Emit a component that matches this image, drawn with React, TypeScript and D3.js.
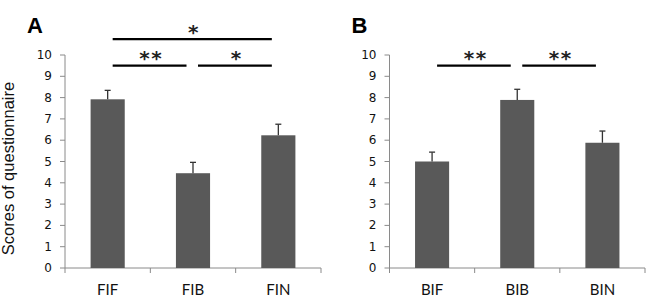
import React from "react";
import * as d3 from "d3";

const categoriesA = ["FIF", "FIB", "FIN"];
const valuesA = [7.92, 4.45, 6.23];
const errorsA = [0.42, 0.51, 0.52];

const categoriesB = ["BIF", "BIB", "BIN"];
const valuesB = [5.0, 7.89, 5.88];
const errorsB = [0.44, 0.5, 0.55];

const yTicks = [0, 1, 2, 3, 4, 5, 6, 7, 8, 9, 10];
const yLabel = "Scores of questionnaire";

const bracketsA = [
  { from: "FIF", to: "FIB", level: 9.5, label: "**" },
  { from: "FIB", to: "FIN", level: 9.5, label: "*" },
  { from: "FIF", to: "FIN", level: 10.75, label: "*" },
];
const bracketsB = [
  { from: "BIF", to: "BIB", level: 9.5, label: "**" },
  { from: "BIB", to: "BIN", level: 9.5, label: "**" },
];

const W = 649;
const H = 298;
const AXIS = "#8a8a8a";
const BAR = "#595959";
const TICKFONT = "'DejaVu Sans', sans-serif";

type Bracket = { from: string; to: string; level: number; label: string };

function Panel(props: {
  letter: string;
  x0: number;
  x1: number;
  cats: string[];
  vals: number[];
  errs: number[];
  brackets: Bracket[];
}) {
  const { letter, x0, x1, cats, vals, errs, brackets } = props;
  const y = d3.scaleLinear().domain([0, 10]).range([268, 55]);
  const x = d3
    .scaleBand<string>()
    .domain(cats)
    .range([x0, x1])
    .paddingInner(0.6)
    .paddingOuter(0.3);
  const step = x.step();
  const center = (c: string) => (x(c) as number) + x.bandwidth() / 2;
  const boundaries = d3.range(cats.length + 1).map((i) => x0 + i * step);
  return (
    <g>
      <text
        x={x0 - 38}
        y={33}
        fontFamily="'Liberation Sans', Arial, sans-serif"
        fontWeight="bold"
        fontSize={22}
      >
        {letter}
      </text>
      {/* y axis */}
      <line x1={x0} x2={x0} y1={y(0)} y2={y(10)} stroke={AXIS} strokeWidth={1} />
      {yTicks.map((t) => (
        <g key={t}>
          <line x1={x0 - 5} x2={x0} y1={y(t)} y2={y(t)} stroke={AXIS} />
          <text
            x={x0 - 13}
            y={y(t)}
            textAnchor="end"
            dominantBaseline="central"
            fontFamily={TICKFONT}
            fontSize={12}
            fill="#111"
          >
            {t}
          </text>
        </g>
      ))}
      {/* x axis */}
      <line x1={x0} x2={x1} y1={y(0)} y2={y(0)} stroke={AXIS} />
      {boundaries.map((b, i) => (
        <line key={i} x1={b} x2={b} y1={y(0)} y2={y(0) + 5} stroke={AXIS} />
      ))}
      {cats.map((c, i) => (
        <g key={c}>
          <rect
            x={x(c)}
            y={y(vals[i])}
            width={x.bandwidth()}
            height={y(0) - y(vals[i])}
            fill={BAR}
          />
          <line
            x1={center(c)}
            x2={center(c)}
            y1={y(vals[i])}
            y2={y(vals[i] + errs[i])}
            stroke="#333"
            strokeWidth={1.3}
          />
          <line
            x1={center(c) - 3}
            x2={center(c) + 3}
            y1={y(vals[i] + errs[i])}
            y2={y(vals[i] + errs[i])}
            stroke="#333"
            strokeWidth={1.3}
          />
          <text
            x={center(c)}
            y={294.5}
            textAnchor="middle"
            fontFamily="Lato, sans-serif"
            fontSize={15}
            fill="#111"
          >
            {c}
          </text>
        </g>
      ))}
      {brackets.map((b, i) => {
        const xa = center(b.from) + 5;
        const xb = center(b.to) - 6.5;
        const yy = y(b.level);
        const n = b.label.length;
        const mid = (xa + xb) / 2 + 1;
        return (
          <g key={i}>
            <line x1={xa} x2={xb} y1={yy} y2={yy} stroke="#000" strokeWidth={2.2} />
            {d3.range(n).map((k) => (
              <text
                key={k}
                x={mid + (k - (n - 1) / 2) * 12}
                y={yy - 0.5}
                textAnchor="middle"
                fontFamily={TICKFONT}
                fontWeight="bold"
                fontSize={20}
                fill="#222"
              >
                *
              </text>
            ))}
          </g>
        );
      })}
    </g>
  );
}

export default function App() {
  return (
    <svg
      width={W}
      height={H}
      style={{ position: "absolute", left: 0, top: 0, background: "#fff" }}
    >
      <rect width={W} height={H} fill="#fff" />
      <text
        transform={`translate(14,168.5) rotate(-90)`}
        textAnchor="middle"
        fontFamily="'Liberation Sans', Arial, sans-serif"
        fontSize={16.5}
        fill="#111"
      >
        {yLabel}
      </text>
      <Panel
        letter="A"
        x0={65}
        x1={321}
        cats={categoriesA}
        vals={valuesA}
        errs={errorsA}
        brackets={bracketsA}
      />
      <Panel
        letter="B"
        x0={389.5}
        x1={645}
        cats={categoriesB}
        vals={valuesB}
        errs={errorsB}
        brackets={bracketsB}
      />
    </svg>
  );
}
